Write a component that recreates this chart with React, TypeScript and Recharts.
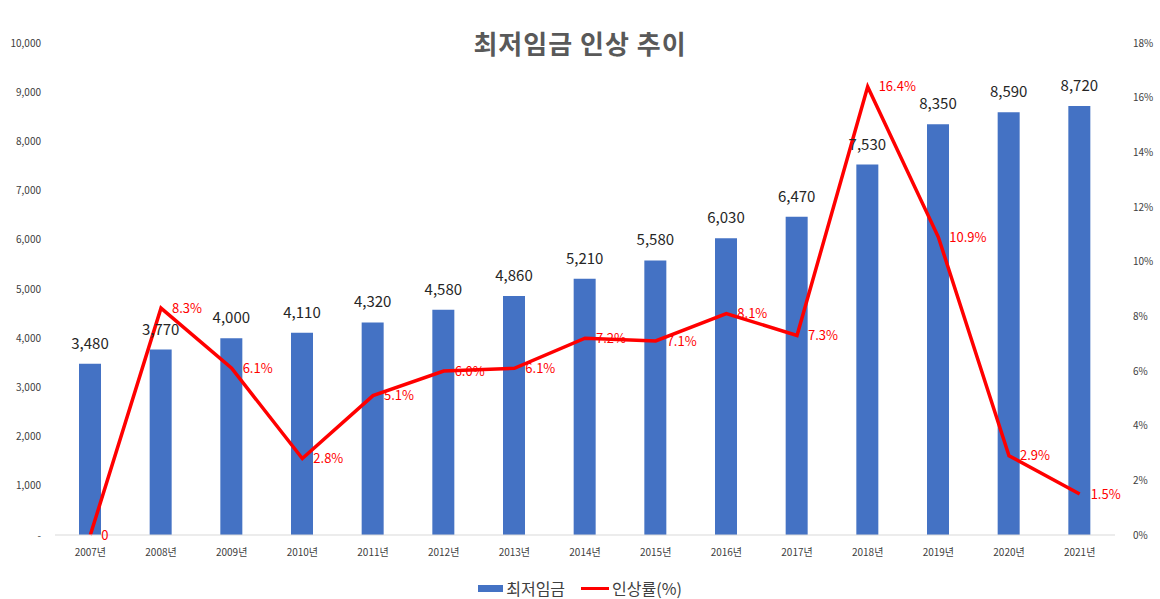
import React from 'react';
import { ComposedChart, Bar, Line, XAxis, YAxis, Legend, LabelList } from 'recharts';

const years = ['2007년', '2008년', '2009년', '2010년', '2011년', '2012년', '2013년', '2014년', '2015년', '2016년', '2017년', '2018년', '2019년', '2020년', '2021년'];
const wages = [3480, 3770, 4000, 4110, 4320, 4580, 4860, 5210, 5580, 6030, 6470, 7530, 8350, 8590, 8720];
const rates = [0, 8.3, 6.1, 2.8, 5.1, 6.0, 6.1, 7.2, 7.1, 8.1, 7.3, 16.4, 10.9, 2.9, 1.5];
const leftTicks = [0, 1000, 2000, 3000, 4000, 5000, 6000, 7000, 8000, 9000, 10000];
const rightTicks = [0, 2, 4, 6, 8, 10, 12, 14, 16, 18];

const data = years.map((y, i) => ({ year: y, wage: wages[i], rate: rates[i] }));

const FONT = '"Noto Sans CJK KR", "Noto Sans", sans-serif';

const LegendContent = () => (
  <div style={{ display: 'flex', justifyContent: 'center', alignItems: 'center', fontFamily: FONT, fontSize: 16, color: '#404040', height: 30 }}>
    <span style={{ display: 'inline-block', width: 25, height: 7, background: '#4472C4', marginRight: 3 }} />
    <span style={{ marginRight: 16 }}>최저임금</span>
    <span style={{ display: 'inline-block', width: 28, height: 3, background: '#FF0000', marginRight: 3 }} />
    <span>인상률(%)</span>
  </div>
);

export default function App() {
  return (
    <div style={{ position: 'absolute', left: 0, top: 0, width: 1160, height: 599, background: '#fff', fontFamily: FONT }}>
      <div style={{ position: 'absolute', top: 24, left: 0, width: 1160, textAlign: 'center', fontSize: 26, fontWeight: 'bold', color: '#595959', fontFamily: FONT, letterSpacing: 1 }}>
        최저임금 인상 추이
      </div>
      <ComposedChart width={1160} height={599} data={data} margin={{ top: 43, right: 0, left: 0, bottom: 10 }}>
        <XAxis
          dataKey="year"
          axisLine={{ stroke: '#D9D9D9' }}
          tickLine={false}
          tickSize={0}
          tickMargin={14}
          height={24}
          tick={{ fontSize: 10, fill: '#404040', fontFamily: FONT }}
          interval={0}
        />
        <YAxis
          yAxisId="left"
          orientation="left"
          width={55}
          domain={[0, 10000]}
          ticks={leftTicks}
          axisLine={false}
          tickLine={false}
          tickSize={0}
          tickMargin={14}
          tick={{ fontSize: 10, fill: '#404040', fontFamily: FONT }}
          tickFormatter={(v: number) => (v === 0 ? '-' : v.toLocaleString('en-US'))}
        />
        <YAxis
          yAxisId="right"
          orientation="right"
          width={45}
          domain={[0, 18]}
          ticks={rightTicks}
          axisLine={false}
          tickLine={false}
          tickSize={0}
          tickMargin={18}
          tick={{ fontSize: 10, fill: '#404040', fontFamily: FONT }}
          tickFormatter={(v: number) => `${v}%`}
        />
        <Legend verticalAlign="bottom" height={30} content={<LegendContent />} wrapperStyle={{ bottom: -4 }} />
        <Bar yAxisId="left" dataKey="wage" name="최저임금" fill="#4472C4" barSize={22} isAnimationActive={false}>
          <LabelList
            dataKey="wage"
            position="top"
            offset={15}
            formatter={(v: number) => v.toLocaleString('en-US')}
            style={{ fontSize: 15, fill: '#262626', fontFamily: FONT }}
          />
        </Bar>
        <Line
          yAxisId="right"
          dataKey="rate"
          name="인상률(%)"
          stroke="#FF0000"
          strokeWidth={3.5}
          dot={false}
          activeDot={false}
          type="linear"
          isAnimationActive={false}
        >
          <LabelList
            dataKey="rate"
            position="right"
            offset={11}
            formatter={(v: number) => (v === 0 ? '0' : `${v.toFixed(1)}%`)}
            style={{ fontSize: 13, fill: '#FF0000', fontFamily: FONT }}
          />
        </Line>
      </ComposedChart>
    </div>
  );
}
